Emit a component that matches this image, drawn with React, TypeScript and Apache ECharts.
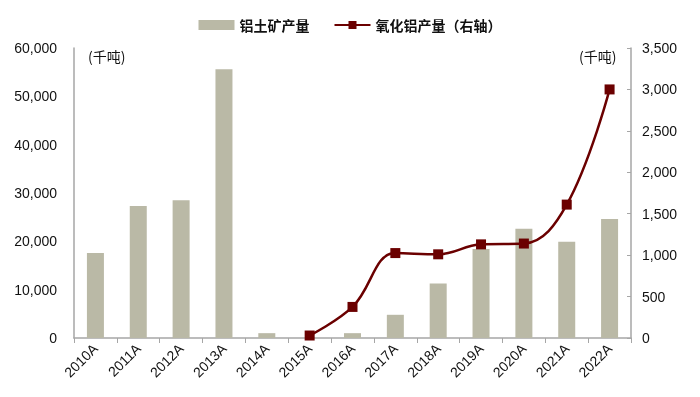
import React, { useEffect, useRef } from "react";
import * as echarts from "echarts";

const categories = ["2010A","2011A","2012A","2013A","2014A","2015A","2016A","2017A","2018A","2019A","2020A","2021A","2022A"];
const bauxite = [17600, 27300, 28500, 55600, 1000, 0, 1000, 4800, 11300, 18400, 22600, 19900, 24600];
const alumina: (number | null)[] = [null, null, null, null, null, 30, 375, 1025, 1010, 1130, 1140, 1610, 3000];
const leftTicks = { min: 0, max: 60000, interval: 10000 };
const rightTicks = { min: 0, max: 3500, interval: 500 };

export default function App() {
  const ref = useRef<HTMLDivElement>(null);
  useEffect(() => {
    const chart = echarts.init(ref.current!, undefined, { renderer: "svg" });
    const axisColor = "#a6a6a6";
    const font = "Liberation Sans, Arial, sans-serif";
    chart.setOption({
      animation: false,
      textStyle: { fontFamily: font },
      legend: {
        top: 13,
        left: "center",
        itemGap: 24,
        itemWidth: 36,
        itemHeight: 10,
        textStyle: { fontSize: 14, color: "#111", fontFamily: "Noto Sans CJK SC", fontWeight: "bold" },
        data: [
          { name: "铝土矿产量", icon: "rect" },
          { name: "氧化铝产量（右轴）" },
        ],
      },
      grid: { left: 74, right: 69, top: 48, bottom: 59 },
      xAxis: {
        type: "category",
        data: categories,
        axisLine: { lineStyle: { color: axisColor, width: 1.5 } },
        axisTick: { show: true, length: 5, lineStyle: { color: axisColor } },
        axisLabel: { rotate: 45, color: "#111", fontSize: 14, margin: 8, fontFamily: font },
      },
      yAxis: [
        {
          type: "value",
          ...leftTicks,
          position: "left",
          axisLine: { show: true, lineStyle: { color: axisColor, width: 1.5 } },
          axisTick: { show: false },
          splitLine: { show: false },
          axisLabel: {
            color: "#111", fontSize: 14, margin: 17, fontFamily: font,
            formatter: (v: number) => v.toLocaleString("en-US"),
          },
        },
        {
          type: "value",
          ...rightTicks,
          position: "right",
          axisLine: { show: true, lineStyle: { color: axisColor, width: 1.5 } },
          axisTick: { show: true, inside: true, length: 4, lineStyle: { color: axisColor } },
          splitLine: { show: false },
          axisLabel: {
            color: "#111", fontSize: 14, margin: 11, fontFamily: font,
            formatter: (v: number) => v.toLocaleString("en-US"),
          },
        },
      ],
      graphic: [
        { type: "text", left: 88, top: 49, style: { text: "(千吨)", fontSize: 14, fill: "#111", fontFamily: "Noto Sans CJK SC" } },
        { type: "text", left: 579, top: 49, style: { text: "(千吨)", fontSize: 14, fill: "#111", fontFamily: "Noto Sans CJK SC" } },
      ],
      series: [
        {
          name: "铝土矿产量",
          type: "bar",
          data: bauxite,
          barWidth: 17,
          itemStyle: { color: "#bab9a6" },
          yAxisIndex: 0,
        },
        {
          name: "氧化铝产量（右轴）",
          type: "line",
          data: alumina,
          yAxisIndex: 1,
          smooth: 0.4,
          symbol: "rect",
          symbolSize: 10,
          lineStyle: { color: "#6b0000", width: 2.5 },
          itemStyle: { color: "#6b0000" },
        },
      ],
    });
    return () => chart.dispose();
  }, []);
  return <div ref={ref} style={{ position: "fixed", left: 0, top: 0, width: 700, height: 397 }} />;
}
